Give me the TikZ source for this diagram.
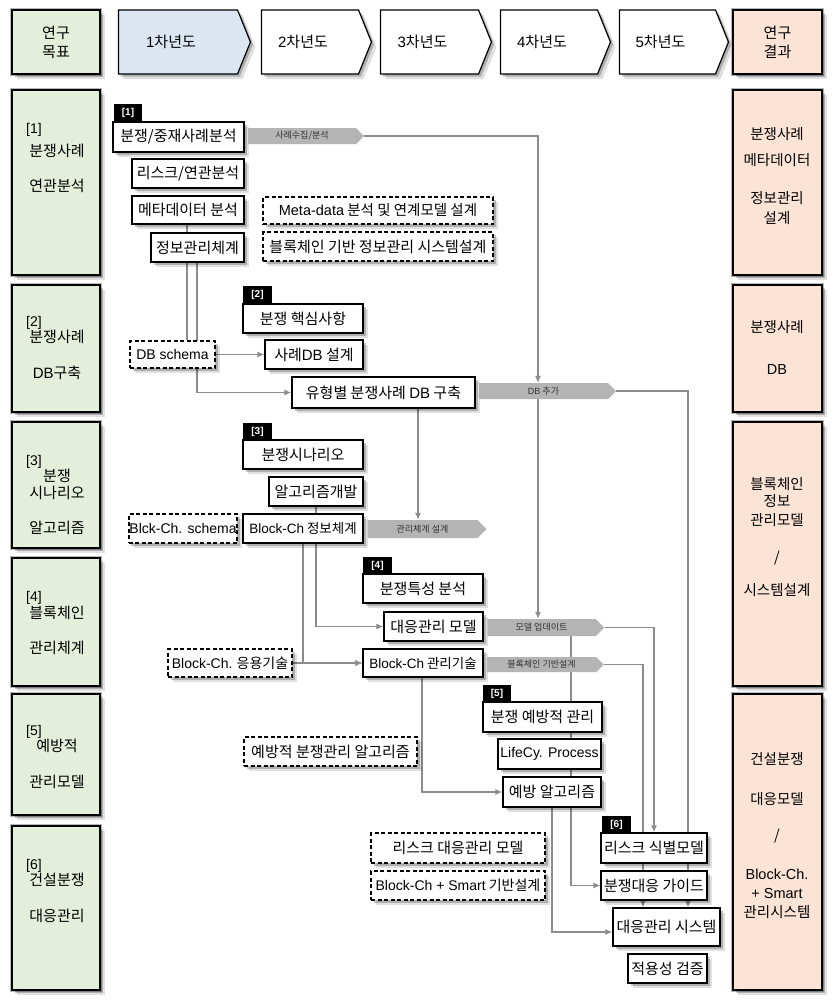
\documentclass[tikz,border=0pt]{standalone}
\usepackage{fontspec}
\setmainfont{Noto Sans CJK KR}
\newfontfamily\lat{Liberation Sans}
\usetikzlibrary{shapes.symbols,arrows.meta,shadows,backgrounds}
\pgfdeclarelayer{bgzero}
\pgfsetlayers{bgzero,background,main}
\definecolor{lgreen}{HTML}{E3EFDA}
\definecolor{lblue}{HTML}{DCE6F2}
\definecolor{lpeach}{HTML}{FBE4D5}
\definecolor{conncol}{HTML}{8C8C8C}
\definecolor{bandcol}{HTML}{B4B4B4}
\tikzset{
 shad/.style={drop shadow={opacity=0.12, shadow xshift=5pt, shadow yshift=-5pt, fill=black},
              drop shadow={opacity=0.22, shadow xshift=2.5pt, shadow yshift=-2.5pt, fill=black}},
 colbox/.style={draw=black, line width=1.4pt, inner sep=0, preaction={draw=gray!55, line width=4.5pt}, shad},
 hdr/.style={colbox, font=\fontsize{15}{19}\selectfont, align=center},
 yr/.style={shape=signal, signal to=east, signal pointer angle=136, draw=black, line width=1.2pt, fill=white, inner sep=0, font=\fontsize{15}{18}\selectfont, shad},
 bx/.style={draw=black, line width=1.3pt, fill=white, inner sep=0.5pt, font=\fontsize{15}{17}\selectfont, shad},
 bxs/.style={bx, font=\fontsize{14}{16}\selectfont},
 dbx/.style={bx, dash pattern=on 4pt off 2.5pt},
 dbxs/.style={dbx, font=\fontsize{14}{16}\selectfont},
 tagbox/.style={fill=black, text=white, inner sep=0, font=\lat\bfseries\fontsize{10}{11}\selectfont},
 band/.style={shape=signal, signal to=east, signal pointer angle=90, fill=bandcol, inner sep=0, font=\fontsize{9}{10}\selectfont, text=black!80},
 lt/.style={font=\fontsize{15}{20}\selectfont, align=center, inner sep=0},
 rt/.style={font=\fontsize{14.5}{19}\selectfont, align=center, inner sep=0},
 cn/.style={draw=conncol, line width=1.1pt},
 ar/.style={cn, -{Latex[length=7pt,width=6pt]}},
}
\newcommand\mybox[7][bx]{\node[#1, minimum width={(#5)-(#3)}, minimum height={(#6)-(#4)}] (#2) at ({(#3+#5)/2},{(#4+#6)/2}) {#7};}
\newcommand\yrtxt[1]{{\lat #1}차년도\hspace*{14pt}}
\begin{document}
\begin{tikzpicture}[x=1pt,y=-1pt]
\begin{pgfonlayer}{bgzero}
\fill[white] (0,0) rectangle (833,1002);
\end{pgfonlayer}
\useasboundingbox (0,0) rectangle (833,1002);
% header
\mybox[hdr, fill=lgreen]{h0}{12}{10}{100}{74}{연구\\목표}
\mybox[yr, fill=lblue]{y1}{112}{10}{244}{74}{\yrtxt{1}}
\mybox[yr]{y2}{255}{10}{365}{74}{\yrtxt{2}}
\mybox[yr]{y3}{374}{10}{485}{74}{\yrtxt{3}}
\mybox[yr]{y4}{494}{10}{604}{74}{\yrtxt{4}}
\mybox[yr]{y5}{613}{10}{722}{74}{\yrtxt{5}}
\mybox[hdr, fill=lpeach]{h7}{733}{10}{822}{74}{연구\\결과}
% left column
\mybox[colbox, fill=lgreen]{l1}{12}{90}{100}{275}{}
\mybox[colbox, fill=lgreen]{l2}{12}{285}{100}{412}{}
\mybox[colbox, fill=lgreen]{l3}{12}{422}{100}{548}{}
\mybox[colbox, fill=lgreen]{l4}{12}{558}{100}{686}{}
\mybox[colbox, fill=lgreen]{l5}{12}{694}{100}{815}{}
\mybox[colbox, fill=lgreen]{l6}{12}{826}{100}{990}{}
\node[lt, anchor=west, font=\lat\fontsize{14}{16}\selectfont] (l1n) at (26,130) {[1]};
\node[lt] (l1t) at (57,168) {분쟁사례\\[15pt]연관분석};
\node[lt, anchor=west, font=\lat\fontsize{14}{16}\selectfont] (l2n) at (26,323) {[2]};
\node[lt] (l2t) at (57,355) {분쟁사례\\[16pt]{\lat DB}구축};
\node[lt, anchor=west, font=\lat\fontsize{14}{16}\selectfont] (l3n) at (26,462) {[3]};
\node[lt] (l3t) at (57,502) {분쟁\\[-3pt]시나리오\\[15pt]알고리즘};
\node[lt, anchor=west, font=\lat\fontsize{14}{16}\selectfont] (l4n) at (26,598) {[4]};
\node[lt] (l4t) at (57,630) {블록체인\\[15pt]관리체계};
\node[lt, anchor=west, font=\lat\fontsize{14}{16}\selectfont] (l5n) at (26,732) {[5]};
\node[lt] (l5t) at (57,764) {예방적\\[16pt]관리모델};
\node[lt, anchor=west, font=\lat\fontsize{14}{16}\selectfont] (l6n) at (26,866) {[6]};
\node[lt] (l6t) at (57,898) {건설분쟁\\[16pt]대응관리};
% right column
\mybox[colbox, fill=lpeach]{r1}{733}{90}{822}{275}{}
\mybox[colbox, fill=lpeach]{r2}{733}{285}{822}{412}{}
\mybox[colbox, fill=lpeach]{r3}{733}{422}{822}{686}{}
\mybox[colbox, fill=lpeach]{r4}{733}{694}{822}{990}{}
\node[rt] (r1t) at (777,176) {분쟁사례\\[7pt]메타데이터\\[19pt]정보관리\\[1pt]설계};
\node[rt] (r2t) at (777,347) {분쟁사례\\[23pt]{\lat DB}};
\node[rt] (r3t) at (777,537) {블록체인\\[-2pt]정보\\관리모델\\[18pt]/\\[14pt]시스템설계};
\node[rt] (r4t) at (777,836) {건설분쟁\\[21pt]대응모델\\[17pt]/\\[20pt]{\lat Block-Ch.}\\{\lat + Smart}\\관리시스템};
% middle
\mybox[tagbox]{t1}{114}{104}{142}{121}{[1]}
\mybox{b1}{113}{122}{244}{152}{분쟁/중재사례분석}
\mybox[band]{band1}{244}{128}{360}{144}{사례수집/분석}
\mybox{b2}{132}{159}{244}{188}{리스크/연관분석}
\mybox{b3}{132}{196}{244}{224}{메타데이터 분석}
\mybox{b4}{151}{233}{244}{262}{정보관리체계}
\mybox[dbx, font=\fontsize{14.5}{17}\selectfont]{d1}{263}{197}{493}{224}{{\lat Meta-data} 분석 및 연계모델 설계}
\mybox[dbx]{d2}{263}{232}{493}{261}{블록체인 기반 정보관리 시스템설계}
\mybox[tagbox]{t2}{243}{286}{272}{303}{[2]}
\mybox{b5}{243}{304}{363}{333}{분쟁 핵심사항}
\mybox{b6}{265}{340}{363}{369}{사례{\lat DB} 설계}
\mybox[dbxs]{d3}{130}{341}{215}{368}{\lat DB schema}
\mybox{b7}{292}{377}{475}{408}{유형별 분쟁사례 {\lat DB} 구축}
\mybox[band]{band2}{475}{383}{612}{399}{{\lat DB} 추가}
\mybox[tagbox]{t3}{243}{423}{272}{440}{[3]}
\mybox{b8}{243}{440}{363}{469}{분쟁시나리오}
\mybox{b9}{269}{477}{363}{506}{알고리즘개발}
\mybox[dbxs]{d4}{129}{514}{237}{543}{\lat Blck-Ch. schema}
\mybox[bx, font=\fontsize{13.5}{16}\selectfont]{b10}{243}{514}{363}{543}{{\lat Block-Ch} 정보체계}
\mybox[band]{band3}{363}{520}{482}{538}{관리체계 설계}
\mybox[tagbox]{t4}{363}{557}{392}{574}{[4]}
\mybox{b11}{363}{574}{483}{603}{분쟁특성 분석}
\mybox{b12}{384}{612}{483}{641}{대응관리 모델}
\mybox[band]{band4}{483}{619}{600}{636}{모델 업데이트}
\mybox[dbxs]{d5}{168}{649}{292}{677}{{\lat Block-Ch.} 응용기술}
\mybox[bx, font=\fontsize{13.5}{16}\selectfont]{b13}{363}{649}{483}{677}{{\lat Block-Ch} 관리기술}
\mybox[band]{band5}{483}{657}{600}{672}{블록체인 기반설계}
\mybox[tagbox]{t5}{483}{685}{511}{702}{[5]}
\mybox{b14}{483}{702}{602}{732}{분쟁 예방적 관리}
\mybox[bxs]{b15}{498}{739}{601}{769}{\lat LifeCy. Process}
\mybox{b16}{503}{777}{601}{807}{예방 알고리즘}
\mybox[dbx]{d6}{244}{737}{417}{766}{예방적 분쟁관리 알고리즘}
\mybox[tagbox]{t6}{602}{816}{631}{833}{[6]}
\mybox{b17}{601}{833}{707}{863}{리스크 식별모델}
\mybox[dbx]{d7}{371}{833}{545}{863}{리스크 대응관리 모델}
\mybox[dbxs]{d8}{371}{871}{545}{900}{{\lat Block-Ch + Smart} 기반설계}
\mybox{b18}{601}{871}{707}{900}{분쟁대응 가이드}
\mybox{b19}{613}{908}{720}{946}{대응관리 시스템}
\mybox{b20}{628}{954}{707}{983}{적용성 검증}
% connector columns
\coordinate (c187) at (187,0);
\coordinate (c197) at (197,0);
\coordinate (c303) at (303,0);
\coordinate (c316) at (316,0);
\coordinate (c418) at (418,0);
\coordinate (c422) at (422,0);
\coordinate (c538) at (538,0);
\coordinate (c552) at (552,0);
\coordinate (c571) at (571,0);
\coordinate (c643) at (643,0);
\coordinate (c654) at (654,0);
\coordinate (c688) at (688,0);
\begin{scope}[on background layer]
\draw[ar] (band1.east) -| (c538 |- band2.north);
\draw[ar] (band2.east) -| (c688 |- b19.north);
\draw[ar] (c538 |- band2.south) -- (c538 |- band4.north);
\draw[cn] (c187 |- b3.south) -- (c187 |- d3.north);
\draw[ar] (c197 |- b4.south) |- (b7.west);
\draw[ar] (d3.east) -- (b6.west);
\draw[ar] (c418 |- b7.south) -- (c418 |- band3.north);
\draw[ar] (c316 |- b9.south) |- (b12.west);
\draw[ar] (c303 |- b10.south) |- (b13.west);
\draw[ar] (d5.east) -- (b13.west);
\draw[ar] (c422 |- b13.south) |- (b16.west);
\draw[ar] (band4.east) -| (c654 |- b17.north);
\draw[ar] (band5.east) -| (c643 |- b19.north);
\draw[ar] (c571 |- band4.south) |- (b18.west);
\draw[ar] (c552 |- b16.south) |- ([yshift=-5pt]b19.west);
\end{scope}
\end{tikzpicture}
\end{document}
